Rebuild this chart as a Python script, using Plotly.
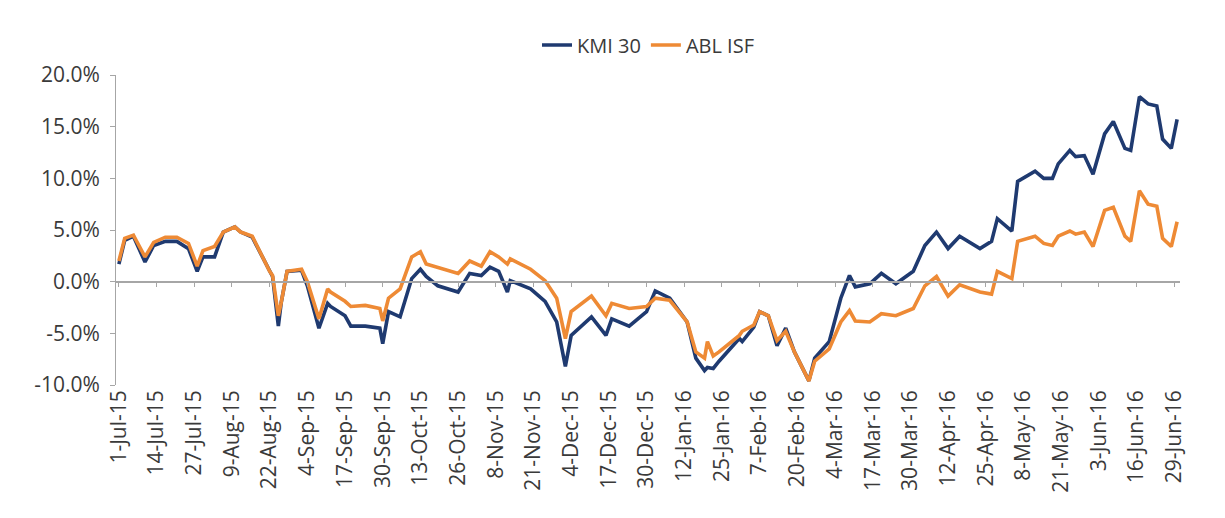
import plotly.graph_objects as go

# Trading dates and cumulative returns (%) for the two series
dates = [
    "2015-07-01", "2015-07-03", "2015-07-06", "2015-07-10", "2015-07-13", "2015-07-17",
    "2015-07-21", "2015-07-25", "2015-07-28", "2015-07-30", "2015-08-03", "2015-08-06",
    "2015-08-10", "2015-08-12", "2015-08-16", "2015-08-18", "2015-08-22", "2015-08-23",
    "2015-08-25", "2015-08-26", "2015-08-28", "2015-09-02", "2015-09-04", "2015-09-08",
    "2015-09-11", "2015-09-12", "2015-09-17", "2015-09-19", "2015-09-24", "2015-09-29",
    "2015-09-30", "2015-10-02", "2015-10-06", "2015-10-10", "2015-10-13", "2015-10-15",
    "2015-10-19", "2015-10-26", "2015-10-30", "2015-11-03", "2015-11-06", "2015-11-09",
    "2015-11-12", "2015-11-13", "2015-11-20", "2015-11-25", "2015-11-29", "2015-12-02",
    "2015-12-04", "2015-12-11", "2015-12-16", "2015-12-18", "2015-12-24", "2015-12-30",
    "2016-01-02", "2016-01-07", "2016-01-13", "2016-01-16", "2016-01-19", "2016-01-20",
    "2016-01-22", "2016-01-24", "2016-01-31", "2016-02-01", "2016-02-05", "2016-02-07",
    "2016-02-10", "2016-02-13", "2016-02-16", "2016-02-19", "2016-02-24", "2016-02-26",
    "2016-03-02", "2016-03-06", "2016-03-09", "2016-03-11", "2016-03-16", "2016-03-20",
    "2016-03-25", "2016-03-31", "2016-04-04", "2016-04-08", "2016-04-12", "2016-04-16",
    "2016-04-23", "2016-04-27", "2016-04-29", "2016-05-04", "2016-05-06", "2016-05-12",
    "2016-05-15", "2016-05-18", "2016-05-20", "2016-05-24", "2016-05-26", "2016-05-29",
    "2016-06-01", "2016-06-05", "2016-06-08", "2016-06-12", "2016-06-14", "2016-06-17",
    "2016-06-20", "2016-06-23", "2016-06-25", "2016-06-28", "2016-06-30",
]

kmi30 = [
    1.7, 4.0, 4.4, 1.9, 3.5, 3.9,
    3.9, 3.2, 1.0, 2.4, 2.4, 4.8,
    5.3, 4.8, 4.3, 3.2, 1.0, 0.5,
    -4.3, -2.0, 1.0, 1.1, -0.4, -4.5,
    -2.1, -2.4, -3.3, -4.3, -4.3, -4.5,
    -6.0, -2.9, -3.4, 0.3, 1.2, 0.5,
    -0.4, -1.0, 0.8, 0.6, 1.4, 1.0,
    -1.0, 0.1, -0.7, -1.9, -3.9, -8.2,
    -5.2, -3.4, -5.2, -3.6, -4.3, -2.9,
    -0.9, -1.6, -3.9, -7.4, -8.6, -8.3,
    -8.4, -7.7, -5.5, -5.8, -4.4, -2.9,
    -3.3, -6.2, -4.5, -6.8, -9.6, -7.4,
    -5.8, -1.6, 0.6, -0.5, -0.2, 0.8,
    -0.2, 1.0, 3.5, 4.8, 3.2, 4.4,
    3.2, 3.9, 6.1, 4.9, 9.7, 10.7,
    10.0, 10.0, 11.4, 12.7, 12.1, 12.2,
    10.4, 14.3, 15.5, 12.9, 12.7, 17.9,
    17.2, 17.0, 13.8, 12.9, 15.7,
]

abl_isf = [
    2.0, 4.2, 4.5, 2.4, 3.8, 4.3,
    4.3, 3.7, 1.5, 3.0, 3.4, 4.8,
    5.3, 4.8, 4.4, 3.2, 1.0, 0.6,
    -3.3, -2.0, 1.0, 1.2, 0.0, -3.6,
    -0.7, -1.0, -1.9, -2.4, -2.3, -2.6,
    -3.8, -1.6, -0.7, 2.4, 2.9, 1.7,
    1.4, 0.8, 2.0, 1.5, 2.9, 2.4,
    1.7, 2.2, 1.2, 0.1, -1.6, -5.5,
    -2.9, -1.4, -3.3, -2.1, -2.6, -2.4,
    -1.6, -1.8, -3.9, -6.8, -7.4, -5.8,
    -7.2, -6.8, -5.2, -4.8, -4.2, -2.9,
    -3.3, -5.7, -4.8, -6.8, -9.6, -7.7,
    -6.5, -3.9, -2.8, -3.8, -3.9, -3.1,
    -3.3, -2.6, -0.4, 0.5, -1.4, -0.3,
    -1.0, -1.2, 1.0, 0.3, 3.9, 4.4,
    3.7, 3.5, 4.4, 4.9, 4.6, 4.8,
    3.4, 6.9, 7.2, 4.4, 3.9, 8.8,
    7.5, 7.3, 4.2, 3.4, 5.8,
]

series_names = ["KMI 30", "ABL ISF"]
series_colors = ["#1f3a70", "#ee8a35"]

# Y-axis ticks (percent) and their labels, written with a plain hyphen
y_tick_values = [-10, -5, 0, 5, 10, 15, 20]
y_tick_labels = ["-10.0%", "-5.0%", "0.0%", "5.0%", "10.0%", "15.0%", "20.0%"]

DAY_MS = 86400000
text_color = "#3a3a3a"
axis_color = "#a6a6a6"

fig = go.Figure()
for name, vals, color in zip(series_names, [kmi30, abl_isf], series_colors):
    fig.add_trace(go.Scatter(
        x=dates, y=vals, name=name, mode="lines",
        line=dict(color=color, width=3.6),
    ))

# Invisible trace on a second x axis that carries the zero-crossing axis line
fig.add_trace(go.Scatter(
    x=[dates[0], dates[-1]], y=[0, 0], xaxis="x2", mode="lines",
    line=dict(width=0), showlegend=False, hoverinfo="skip",
))

x_range = ["2015-06-30", "2016-07-01"]

fig.update_layout(
    width=1225, height=518,
    margin=dict(l=116, r=45, t=75, b=133),
    paper_bgcolor="white", plot_bgcolor="white",
    font=dict(family="Open Sans, DejaVu Sans, sans-serif", color=text_color, size=20),
    showlegend=True,
    legend=dict(
        orientation="h", x=0.5, xanchor="center", y=1.097, yanchor="middle",
        font=dict(size=20, color=text_color), traceorder="normal",
    ),
    xaxis=dict(
        type="date", range=x_range,
        tick0="2015-07-01", dtick=13 * DAY_MS, tickformat="%-d-%b-%y",
        tickangle=-90, tickfont=dict(size=21, color=text_color),
        showgrid=False, zeroline=False, showline=False, ticks="",
    ),
    xaxis2=dict(
        type="date", range=x_range, overlaying="x", anchor="free",
        position=1 / 3, side="bottom",
        tick0="2015-07-01", dtick=13 * DAY_MS,
        showticklabels=False, showgrid=False, zeroline=False,
        showline=True, linecolor=axis_color, linewidth=1.5,
        ticks="outside", ticklen=5, tickcolor=axis_color,
    ),
    yaxis=dict(
        range=[min(y_tick_values), max(y_tick_values)],
        tickmode="array", tickvals=y_tick_values, ticktext=y_tick_labels,
        tickfont=dict(size=21, color=text_color), ticklabelstandoff=6,
        showgrid=False, zeroline=False,
        showline=True, linecolor=axis_color, linewidth=1,
        ticks="outside", ticklen=5, tickcolor=axis_color,
    ),
)

fig.write_html("out.html")
